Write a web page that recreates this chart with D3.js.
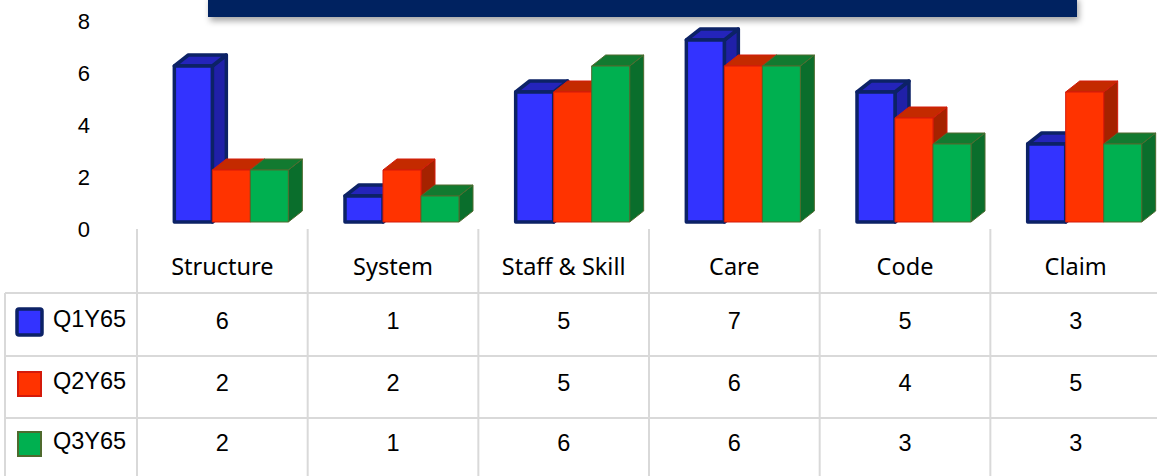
<!DOCTYPE html>
<html>
<head>
<meta charset="utf-8">
<script src="https://cdn.jsdelivr.net/npm/d3@7"></script>
<style>
  body { margin: 0; background: #fff; }
  svg { display: block; }
</style>
</head>
<body>
<script>
// Chart data
var categories = ["Structure", "System", "Staff & Skill", "Care", "Code", "Claim"];
var seriesNames = ["Q1Y65", "Q2Y65", "Q3Y65"];
var q1Values = [6, 1, 5, 7, 5, 3];
var q2Values = [2, 2, 5, 6, 4, 5];
var q3Values = [2, 1, 6, 6, 3, 3];
var yTicks = [0, 2, 4, 6, 8];

var seriesValues = [q1Values, q2Values, q3Values];

// Colours per series: front, top, side, stroke
var styles = [
  {front: "#3333ff", top: "#2424bb", side: "#2020a8", stroke: "#0c2266", sw: 3.5},
  {front: "#ff3300", top: "#c42a00", side: "#a52200", stroke: "#d41a0a", sw: 1},
  {front: "#00b050", top: "#127a30", side: "#0a6e2c", stroke: "#4f6a2e", sw: 1}
];

var width = 1157, height = 476;
var tableLeft = 137, colW = 170.67;
var depthX = 14, depthY = 11;

var svg = d3.select("body").append("svg")
    .attr("width", width)
    .attr("height", height);

// Shadow for the banner
var defs = svg.append("defs");
var f = defs.append("filter").attr("id", "shadow").attr("x", "-5%").attr("y", "-50%").attr("width", "110%").attr("height", "250%");
f.append("feDropShadow").attr("dx", 2).attr("dy", 4).attr("stdDeviation", 3).attr("flood-color", "#000").attr("flood-opacity", 0.35);

// Banner at the top
svg.append("rect")
    .attr("x", 208).attr("y", -4)
    .attr("width", 869).attr("height", 21)
    .attr("fill", "#002060")
    .attr("filter", "url(#shadow)");

// Scales
var x = d3.scaleBand()
    .domain(categories)
    .range([tableLeft, tableLeft + colW * categories.length]);

var xs = d3.scaleBand()
    .domain(seriesNames)
    .range([0, 114]);

var y = d3.scaleLinear()
    .domain([0, 8])
    .range([222, 14]);

// Y axis
var yAxis = svg.append("g")
    .attr("transform", "translate(90,7)")
    .call(d3.axisLeft(y).tickValues(yTicks).tickSize(0).tickPadding(0));
yAxis.select(".domain").remove();
yAxis.selectAll("text")
    .style("font-family", "'Liberation Sans', Arial, sans-serif")
    .style("font-size", "22px")
    .attr("fill", "#000");

// 3D bars
seriesNames.forEach(function(s, si) {
  var st = styles[si];
  var g = svg.append("g");
  categories.forEach(function(c, ci) {
    var v = seriesValues[si][ci];
    var x0 = x(c) + x.bandwidth() / 2 - 57 + 9 + xs(s);
    var x1 = x0 + xs.bandwidth();
    var yt = y(v), yb = y(0);
    var pts = function(arr) { return arr.map(function(p) { return p.join(","); }).join(" "); };
    // side
    g.append("polygon")
      .attr("points", pts([[x1, yt], [x1 + depthX, yt - depthY], [x1 + depthX, yb - depthY], [x1, yb]]))
      .attr("fill", st.side).attr("stroke", st.stroke).attr("stroke-width", st.sw)
      .attr("stroke-linejoin", "round");
    // top
    g.append("polygon")
      .attr("points", pts([[x0, yt], [x0 + depthX, yt - depthY], [x1 + depthX, yt - depthY], [x1, yt]]))
      .attr("fill", st.top).attr("stroke", st.stroke).attr("stroke-width", st.sw)
      .attr("stroke-linejoin", "round");
    // front
    g.append("rect")
      .attr("x", x0).attr("y", yt)
      .attr("width", x1 - x0).attr("height", yb - yt)
      .attr("fill", st.front).attr("stroke", st.stroke).attr("stroke-width", st.sw)
      .attr("stroke-linejoin", "round");
  });
});

// Data table
var gridColor = "#d9d9d9";
var rowLines = [293, 356, 418];
var rowCenters = [321, 383, 443];

var table = svg.append("g");

// vertical lines
d3.range(categories.length + 1).forEach(function(i) {
  table.append("line")
    .attr("x1", tableLeft + i * colW).attr("x2", tableLeft + i * colW)
    .attr("y1", 229).attr("y2", height)
    .attr("stroke", gridColor).attr("stroke-width", 2);
});
table.append("line")
  .attr("x1", 5).attr("x2", 5)
  .attr("y1", 293).attr("y2", height)
  .attr("stroke", gridColor).attr("stroke-width", 2);

// horizontal lines
rowLines.forEach(function(ly) {
  table.append("line")
    .attr("x1", 5).attr("x2", width)
    .attr("y1", ly).attr("y2", ly)
    .attr("stroke", gridColor).attr("stroke-width", 2);
});

// header labels
table.selectAll(".head")
  .data(categories)
  .enter().append("text")
    .attr("x", function(d) { return x(d) + x.bandwidth() / 2; })
    .attr("y", 267)
    .attr("dy", "0.35em")
    .attr("text-anchor", "middle")
    .style("font-family", "'Noto Sans', sans-serif")
    .style("font-size", "23.5px")
    .text(function(d) { return d; });

// rows
seriesNames.forEach(function(s, si) {
  var st = styles[si];
  var cy = rowCenters[si];
  var inset = si === 0 ? 0 : 1;
  table.append("rect")
    .attr("x", 17 + inset).attr("y", cy - 12 + inset)
    .attr("width", 25 - 2 * inset).attr("height", 26 - 2 * inset)
    .attr("rx", si === 0 ? 2 : 0)
    .attr("fill", st.front).attr("stroke", st.stroke).attr("stroke-width", st.sw + (si === 0 ? 0 : 1));
  table.append("text")
    .attr("x", 53).attr("y", cy - 2)
    .attr("dy", "0.35em")
    .style("font-family", "'Liberation Sans', Arial, sans-serif")
    .style("font-size", "23.5px")
    .text(s);
  categories.forEach(function(c, ci) {
    table.append("text")
      .attr("x", x(c) + x.bandwidth() / 2)
      .attr("y", cy)
      .attr("dy", "0.35em")
      .attr("text-anchor", "middle")
      .style("font-family", "'Liberation Sans', Arial, sans-serif")
      .style("font-size", "23.5px")
      .text(seriesValues[si][ci]);
  });
});
</script>
</body>
</html>
